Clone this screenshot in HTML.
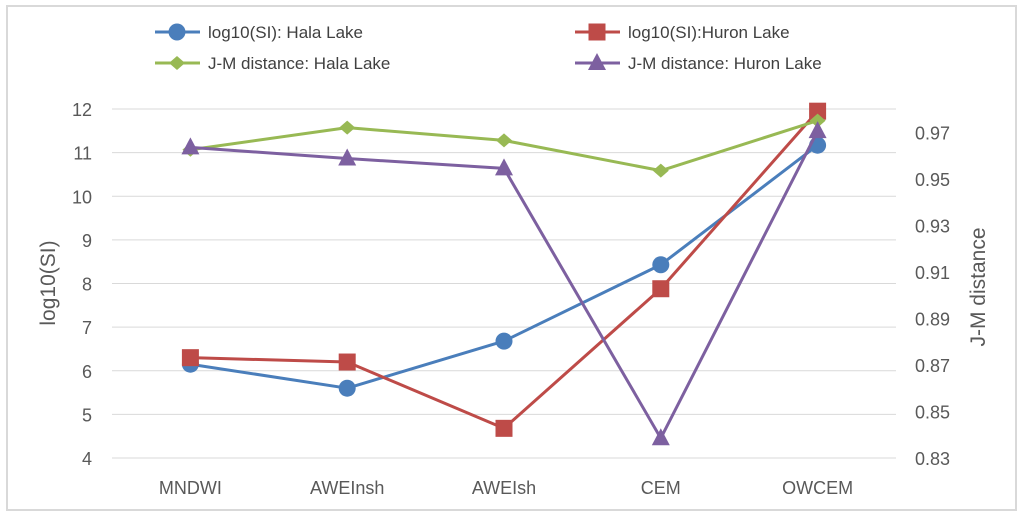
<!DOCTYPE html>
<html><head><meta charset="utf-8"><style>
html,body{margin:0;padding:0;background:#fff;}
svg{display:block;font-family:"Liberation Sans",sans-serif;}
</style></head><body>
<svg id="chart" width="1024" height="517">
<rect x="7" y="6" width="1009" height="504" fill="#fff" stroke="#d9d9d9" stroke-width="2"/>
<g id="grid"></g><g id="axes"></g><g id="series"></g><g id="legend"></g>
<text transform="translate(55,283) rotate(-90)" text-anchor="middle" font-size="21" fill="#595959">log10(SI)</text>
<text transform="translate(985,287) rotate(-90)" text-anchor="middle" font-size="21" fill="#595959">J-M distance</text>
</svg>
<script>
const categories = ["MNDWI","AWEInsh","AWEIsh","CEM","OWCEM"];
const halaLog = [6.15, 5.6, 6.68, 8.43, 11.17];
const huronLog = [6.3, 6.2, 4.68, 7.88, 11.95];
const halaJM = [0.9625, 0.972, 0.9665, 0.9535, 0.975];
const huronJM = [0.9635, 0.9587, 0.9545, 0.8385, 0.9705];
const leftTicks = [4,5,6,7,8,9,10,11,12];
const rightTicks = [0.83,0.85,0.87,0.89,0.91,0.93,0.95,0.97];

const NS="http://www.w3.org/2000/svg";
const X0=112, X1=896, Y0=458, Y1=109;
const xs = i => X0 + (X1-X0)/categories.length*(i+0.5);
const yL = v => Y0 - (v-4)/(12-4)*(Y0-Y1);
const yR = v => Y0 - (v-0.83)/(0.98-0.83)*(Y0-Y1);
function mk(tag, attrs, parent){const e=document.createElementNS(NS,tag);for(const k in attrs)e.setAttribute(k,attrs[k]);parent.appendChild(e);return e;}
const grid=document.getElementById('grid'), axes=document.getElementById('axes'), ser=document.getElementById('series'), leg=document.getElementById('legend');

leftTicks.forEach(t=>{
  const l=mk('line',{x1:X0,x2:X1,y1:yL(t),y2:yL(t),stroke:'#d9d9d9','stroke-width':1},grid);
  
  
  const tx=mk('text',{x:92,y:yL(t)+7,'text-anchor':'end','font-size':18,fill:'#595959'},axes);
  tx.textContent=t;
  
  
});
rightTicks.forEach(t=>{
  const tx=mk('text',{x:915,y:yR(t)+7,'font-size':18,fill:'#595959'},axes);
  tx.textContent=t.toFixed(2);
  
  
});
categories.forEach((c,i)=>{
  const tx=mk('text',{x:xs(i),y:494,'text-anchor':'middle','font-size':18,fill:'#595959'},axes);
  tx.textContent=c;
  
  
});

function marker(shape,x,y,color,parent){
  let e;
  if(shape==='circle') e=mk('circle',{cx:x,cy:y,r:8.5,fill:color},parent);
  else if(shape==='square') e=mk('rect',{x:x-8.5,y:y-8.5,width:17,height:17,fill:color},parent);
  else if(shape==='diamond') e=mk('polygon',{points:`${x},${y-7} ${x+8},${y} ${x},${y+7} ${x-8},${y}`,fill:color},parent);
  else e=mk('polygon',{points:`${x},${y-10} ${x+9},${y+7} ${x-9},${y+7}`,fill:color},parent);
  return e;
}
const seriesDefs=[
  {name:'log10(SI): Hala Lake',vals:halaLog,f:yL,color:'#4a7ebb',shape:'circle',lx:155,ly:32},
  {name:'log10(SI):Huron Lake',vals:huronLog,f:yL,color:'#be4b48',shape:'square',lx:575,ly:32},
  {name:'J-M distance: Hala Lake',vals:halaJM,f:yR,color:'#98b954',shape:'diamond',lx:155,ly:63},
  {name:'J-M distance: Huron Lake',vals:huronJM,f:yR,color:'#7d60a0',shape:'triangle',lx:575,ly:63}
];
seriesDefs.forEach((s,si)=>{
  const g=mk('g',{},ser);
  
  
  const pts=s.vals.map((v,i)=>xs(i)+','+s.f(v)).join(' ');
  const pl=mk('polyline',{points:pts,fill:'none',stroke:s.color,'stroke-width':3,'stroke-linejoin':'round'},g);
  
  
  s.vals.forEach((v,i)=>{
    const m=marker(s.shape,xs(i),s.f(v),s.color,g);
    
    
  });
  const lg=mk('g',{},leg);
  
  
  mk('line',{x1:s.lx,x2:s.lx+45,y1:s.ly,y2:s.ly,stroke:s.color,'stroke-width':3},lg);
  marker(s.shape,s.lx+22,s.ly,s.color,lg);
  const t=mk('text',{x:s.lx+53,y:s.ly+6,'font-size':17,fill:'#404040'},lg);
  t.textContent=s.name;
});
</script>
</body></html>
